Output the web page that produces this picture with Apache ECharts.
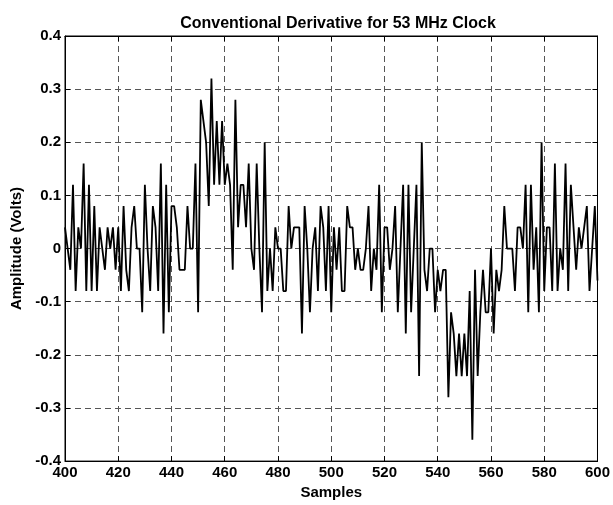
<!DOCTYPE html>
<html>
<head>
<meta charset="utf-8">
<script src="https://cdn.jsdelivr.net/npm/echarts@6/dist/echarts.min.js"></script>
<style>
html,body{margin:0;padding:0;background:#fff;}
#chart{width:613px;height:505px;}
</style>
</head>
<body>
<div id="chart"></div>
<script>
const titleText = 'Conventional Derivative for 53 MHz Clock';
const xAxisName = 'Samples';
const yAxisName = 'Amplitude (Volts)';
const firstSample = 400;
const xTicks = [400, 420, 440, 460, 480, 500, 520, 540, 560, 580, 600];
const yTicks = [-0.4, -0.3, -0.2, -0.1, 0, 0.1, 0.2, 0.3, 0.4];
// amplitude per sample, samples 400..600
const amplitude = [
  0.04, 0, -0.04, 0.12, -0.08, 0.04, 0, 0.16, -0.08, 0.12,
  -0.08, 0.08, -0.08, 0.04, 0, -0.04, 0.04, 0, 0.04, -0.04,
  0.04, -0.08, 0.08, -0.04, -0.08, 0.04, 0.08, 0, 0, -0.12,
  0.12, 0, -0.08, 0.08, 0.04, -0.08, 0.16, -0.16, 0.12, -0.12,
  0.08, 0.08, 0.04, -0.04, -0.04, -0.04, 0.08, 0, 0, 0.16,
  -0.12, 0.28, 0.24, 0.2, 0.08, 0.32, 0.12, 0.24, 0.12, 0.24,
  0.12, 0.16, 0.12, -0.04, 0.28, 0.04, 0.12, 0.12, 0.04, 0.16,
  0, -0.04, 0.16, 0, -0.12, 0.2, -0.08, 0, -0.08, 0.04,
  0, 0, -0.08, -0.08, 0.08, 0, 0.04, 0.04, 0.04, -0.16,
  0.08, 0, -0.12, 0, 0.04, -0.08, 0.08, 0.04, -0.08, 0.08,
  -0.12, 0.04, -0.04, 0.04, -0.08, -0.08, 0.08, 0.04, 0.04, -0.04,
  0, -0.04, -0.04, 0, 0.08, -0.08, 0, -0.04, 0.12, -0.12,
  0.04, 0.04, -0.04, 0, 0.08, -0.12, 0, 0.12, -0.16, 0.12,
  -0.12, 0, 0.12, -0.24, 0.2, -0.04, -0.08, 0, 0, -0.12,
  -0.04, -0.08, -0.04, -0.04, -0.28, -0.12, -0.16, -0.24, -0.16, -0.24,
  -0.16, -0.24, -0.08, -0.36, -0.04, -0.24, -0.12, -0.04, -0.12, -0.12,
  0, -0.16, -0.04, -0.08, -0.04, 0.08, 0, 0, 0, -0.08,
  0.04, 0.04, 0, 0.12, -0.12, 0.12, -0.04, 0.04, -0.12, 0.2,
  -0.08, 0.04, 0.04, -0.08, 0.16, -0.08, 0, -0.04, 0.16, -0.08,
  0.12, 0.04, -0.04, 0.04, 0, 0.04, 0.08, -0.08, 0, 0.08,
  -0.06
];

const seriesData = amplitude.map((v, i) => [firstSample + i, v]);

const font = '"Liberation Sans", Arial, Helvetica, sans-serif';
const chart = echarts.init(document.getElementById('chart'), null, {renderer: 'canvas'});
const xMin = xTicks[0], xMax = xTicks[xTicks.length - 1];
const yMin = yTicks[0], yMax = yTicks[yTicks.length - 1];
const tickStyle = {show: true, inside: true, length: 5, lineStyle: {color: '#000', width: 1}};
const gridLine = {show: true, lineStyle: {color: '#555', width: 1, type: [6, 4]}};
const plainLine = {show: true, onZero: false, lineStyle: {color: '#000', width: 1}};

chart.setOption({
  animation: false,
  backgroundColor: '#fff',
  title: {
    text: titleText,
    left: 333,
    textAlign: 'center',
    top: 11,
    textStyle: {fontFamily: font, fontWeight: 'bold', fontSize: 16, color: '#000'}
  },
  grid: {left: 65, right: 13, top: 36, bottom: 39, show: true, borderColor: '#000', borderWidth: 1, backgroundColor: '#fff'},
  xAxis: [{
    type: 'value', min: xMin, max: xMax, interval: 20,
    name: xAxisName, nameLocation: 'middle', nameGap: 20,
    nameTextStyle: {fontFamily: font, fontWeight: 'bold', fontSize: 15, color: '#000'},
    axisLine: plainLine,
    axisTick: tickStyle,
    axisLabel: {fontFamily: font, fontWeight: 'bold', fontSize: 15, color: '#000', margin: 4},
    splitLine: gridLine
  }, {
    type: 'value', position: 'top', min: xMin, max: xMax, interval: 20,
    axisLine: plainLine,
    axisTick: tickStyle, axisLabel: {show: false}, splitLine: {show: false}
  }],
  yAxis: [{
    type: 'value', min: yMin, max: yMax, interval: 0.1,
    name: yAxisName, nameLocation: 'middle', nameGap: 41,
    nameTextStyle: {fontFamily: font, fontWeight: 'bold', fontSize: 15, color: '#000'},
    axisLine: plainLine,
    axisTick: tickStyle,
    axisLabel: {fontFamily: font, fontWeight: 'bold', fontSize: 15, color: '#000', margin: 4,
      formatter: v => String(Number(v.toFixed(1)))},
    splitLine: gridLine
  }, {
    type: 'value', position: 'right', min: yMin, max: yMax, interval: 0.1,
    axisLine: plainLine,
    axisTick: tickStyle, axisLabel: {show: false}, splitLine: {show: false}
  }],
  series: [{
    type: 'line',
    xAxisIndex: 0, yAxisIndex: 0,
    data: seriesData,
    showSymbol: false,
    symbol: 'none',
    lineStyle: {color: '#000', width: 1.8},
    clip: true
  }]
});
</script>
</body>
</html>
